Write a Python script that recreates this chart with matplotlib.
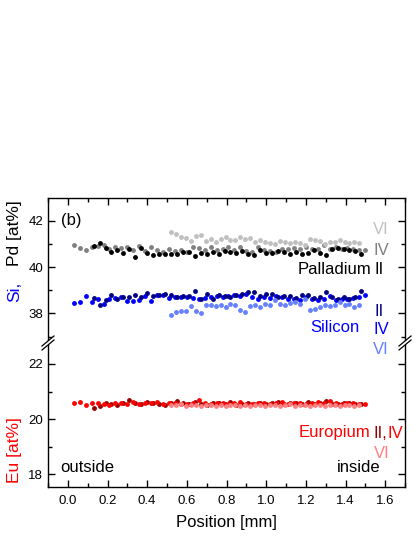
import matplotlib
matplotlib.use("Agg")
from matplotlib import pyplot as plt
from matplotlib.lines import Line2D
from matplotlib.patches import Polygon
from matplotlib.ticker import MultipleLocator

plt.rcParams['font.family'] = ['Liberation Sans', 'DejaVu Sans']

# measurement positions [mm]
pos_iv = [0.03, 0.06, 0.09, 0.12, 0.15, 0.18, 0.21, 0.24, 0.27, 0.30,
          0.33, 0.36, 0.39, 0.42, 0.45, 0.48, 0.51, 0.54, 0.57, 0.60,
          0.63, 0.66, 0.69, 0.72, 0.75, 0.78, 0.81, 0.84, 0.87, 0.90,
          0.93, 0.96, 0.99, 1.02, 1.05, 1.08, 1.11, 1.14, 1.17, 1.20,
          1.23, 1.26, 1.29, 1.32, 1.35, 1.38, 1.41, 1.44, 1.47, 1.50]
pos_ii = [0.13, 0.16, 0.19, 0.22, 0.25, 0.28, 0.31, 0.34, 0.37, 0.40,
          0.43, 0.46, 0.49, 0.52, 0.55, 0.58, 0.61, 0.64, 0.67, 0.70,
          0.73, 0.76, 0.79, 0.82, 0.85, 0.88, 0.91, 0.94, 0.97, 1.00,
          1.03, 1.06, 1.09, 1.12, 1.15, 1.18, 1.21, 1.24, 1.27, 1.30,
          1.33, 1.36, 1.39, 1.42, 1.45, 1.48]
pos_vi = [0.520, 0.545, 0.570, 0.595, 0.620, 0.645, 0.670, 0.695, 0.720, 0.745,
          0.770, 0.795, 0.820, 0.845, 0.870, 0.895, 0.920, 0.945, 0.970, 0.995,
          1.020, 1.045, 1.070, 1.095, 1.120, 1.145, 1.170, 1.195, 1.220, 1.245,
          1.270, 1.295, 1.320, 1.345, 1.370, 1.395, 1.420, 1.445, 1.470]

# Palladium [at%]
pd_iv = [40.94, 40.83, 40.72, 40.88, 40.92, 40.94, 40.78, 40.86, 40.80, 40.88,
         40.72, 40.92, 40.68, 40.86, 40.75, 40.65, 40.78, 40.68, 40.75, 40.66,
         40.86, 40.80, 40.72, 40.86, 40.72, 40.78, 40.86, 40.72, 40.86, 40.70,
         40.65, 40.86, 40.72, 40.70, 40.65, 40.79, 40.76, 40.82, 40.79, 40.86,
         40.78, 40.76, 40.94, 40.76, 40.86, 40.76, 40.80, 40.76, 40.72, 40.72]
pd_ii = [40.90, 41.03, 40.82, 40.65, 40.75, 40.62, 40.78, 40.43, 40.82, 40.62,
         40.50, 40.58, 40.55, 40.58, 40.55, 40.65, 40.65, 40.48, 40.60, 40.58,
         40.65, 40.58, 40.70, 40.65, 40.62, 40.68, 40.55, 40.50, 40.72, 40.62,
         40.62, 40.68, 40.65, 40.58, 40.65, 40.58, 40.62, 40.72, 40.62, 40.50,
         40.79, 40.82, 40.79, 40.72, 40.68, 40.55]
pd_vi = [41.50, 41.43, 41.30, 41.25, 41.13, 41.36, 41.40, 41.13, 41.22, 41.08,
         41.20, 41.29, 41.18, 41.15, 41.29, 41.22, 41.25, 41.08, 41.15, 41.10,
         41.05, 41.00, 41.12, 41.08, 41.02, 41.08, 41.05, 40.97, 41.22, 41.15,
         41.12, 41.00, 41.10, 41.08, 41.15, 41.08, 41.05, 41.10, 41.04]

# Silicon [at%]
si_iv = [38.45, 38.49, 38.74, 38.49, 38.61, 38.42, 38.61, 38.67, 38.71, 38.52,
         38.52, 38.56, 38.74, 38.52, 38.78, 38.78, 38.68, 38.71, 38.71, 38.71,
         38.67, 38.61, 38.67, 38.71, 38.75, 38.71, 38.75, 38.78, 38.75, 38.85,
         38.71, 38.64, 38.71, 38.67, 38.75, 38.71, 38.64, 38.60, 38.56, 38.71,
         38.61, 38.56, 38.64, 38.75, 38.56, 38.61, 38.64, 38.67, 38.70, 38.78]
si_ii = [38.67, 38.35, 38.56, 38.78, 38.61, 38.71, 38.71, 38.81, 38.71, 38.89,
         38.75, 38.81, 38.85, 38.78, 38.71, 38.75, 38.75, 38.95, 38.61, 38.85,
         38.64, 38.78, 38.75, 38.71, 38.78, 38.85, 38.92, 38.92, 38.75, 38.85,
         38.85, 38.71, 38.75, 38.75, 38.67, 38.78, 38.78, 38.67, 38.71, 38.92,
         38.71, 38.64, 38.71, 38.64, 38.71, 38.95]
si_vi = [37.92, 38.04, 38.08, 38.10, 38.32, 38.10, 38.00, 38.35, 38.35, 38.32,
         38.35, 38.28, 38.40, 38.35, 38.13, 38.06, 38.30, 38.35, 38.28, 38.42,
         38.35, 38.56, 38.40, 38.35, 38.46, 38.49, 38.42, 38.64, 38.13, 38.20,
         38.28, 38.35, 38.30, 38.35, 38.49, 38.35, 38.40, 38.28, 38.35]

# Europium [at%]
eu_iv = [20.57, 20.61, 20.51, 20.58, 20.60, 20.55, 20.53, 20.60, 20.60, 20.55,
         20.62, 20.54, 20.60, 20.58, 20.62, 20.55, 20.57, 20.60, 20.56, 20.55,
         20.58, 20.70, 20.60, 20.55, 20.57, 20.60, 20.55, 20.58, 20.62, 20.56,
         20.55, 20.60, 20.57, 20.55, 20.58, 20.62, 20.56, 20.60, 20.58, 20.55,
         20.60, 20.62, 20.57, 20.65, 20.58, 20.56, 20.60, 20.57, 20.55, 20.56]
eu_ii = [20.42, 20.47, 20.58, 20.55, 20.52, 20.60, 20.68, 20.60, 20.55, 20.62,
         20.58, 20.55, 20.52, 20.60, 20.64, 20.58, 20.55, 20.62, 20.56, 20.52,
         20.58, 20.60, 20.55, 20.63, 20.52, 20.56, 20.58, 20.55, 20.60, 20.54,
         20.58, 20.62, 20.55, 20.58, 20.60, 20.56, 20.62, 20.55, 20.58, 20.65,
         20.56, 20.54, 20.60, 20.58, 20.55, 20.54]
eu_vi = [20.52, 20.50, 20.55, 20.48, 20.50, 20.52, 20.46, 20.50, 20.53, 20.48,
         20.50, 20.47, 20.52, 20.50, 20.48, 20.52, 20.46, 20.50, 20.53, 20.48,
         20.50, 20.52, 20.47, 20.50, 20.54, 20.48, 20.50, 20.52, 20.47, 20.50,
         20.53, 20.48, 20.52, 20.50, 20.47, 20.52, 20.50, 20.48, 20.52]

x_ticks = [0.0, 0.2, 0.4, 0.6, 0.8, 1.0, 1.2, 1.4, 1.6]

W, H = 415, 537


def fx(px):
    return px / W


def fy(py):
    return 1 - py / H


fig = plt.figure(figsize=(W / 100, H / 100), dpi=100)
left, right = 48, 405
top, mid, bottom = 198, 343, 487
ax_up = fig.add_axes([fx(left), fy(mid), fx(right) - fx(left), fy(top) - fy(mid)])
ax_lo = fig.add_axes([fx(left), fy(bottom), fx(right) - fx(left), fy(mid) - fy(bottom)])

ms = 3.5
# upper panel: Pd and Si
ax_up.plot(pos_iv, pd_iv, 'o', ms=ms, mew=0, color='#808080')
ax_up.plot(pos_ii, pd_ii, 'o', ms=ms, mew=0, color='#000000')
ax_up.plot(pos_vi, pd_vi, 'o', ms=ms, mew=0, color='#c0c0c0')
ax_up.plot(pos_iv, si_iv, 'o', ms=ms, mew=0, color='#0000ff')
ax_up.plot(pos_ii, si_ii, 'o', ms=ms, mew=0, color='#000080')
ax_up.plot(pos_vi, si_vi, 'o', ms=ms, mew=0, color='#6680ff')
# lower panel: Eu
ax_lo.plot(pos_ii, eu_ii, 'o', ms=ms, mew=0, color='#990000')
ax_lo.plot(pos_iv, eu_iv, 'o', ms=ms, mew=0, color='#ff0000')
ax_lo.plot(pos_vi, eu_vi, 'o', ms=ms, mew=0, color='#ff8080')

for ax in (ax_up, ax_lo):
    ax.set_xlim(-0.1, 1.7)
    ax.set_xticks(x_ticks)
    ax.xaxis.set_minor_locator(MultipleLocator(0.1))
    ax.yaxis.set_minor_locator(MultipleLocator(1))
    for s in ax.spines.values():
        s.set_linewidth(1.0)
    ax.tick_params(which='both', direction='in', width=1.0, labelsize=9.5)
    ax.tick_params(which='major', length=5)
    ax.tick_params(which='minor', length=3)

ax_up.set_ylim(36.72, 42.98)
ax_up.set_yticks([38, 40, 42])
ax_up.spines['bottom'].set_visible(False)
ax_up.tick_params(which='both', bottom=False, labelbottom=False, top=True, right=True)

ax_lo.set_ylim(17.54, 22.76)
ax_lo.set_yticks([18, 20, 22])
ax_lo.spines['top'].set_visible(False)
ax_lo.tick_params(which='both', top=False, right=True)
ax_lo.tick_params(axis='x', pad=6)
ax_lo.set_xticklabels(['%.1f' % v for v in x_ticks])

# axis break marks
for cx in (left, right):
    gap = Polygon([(fx(cx - 7), fy(mid + 4)), (fx(cx + 5), fy(mid - 6)),
                   (fx(cx + 5), fy(mid - 2)), (fx(cx - 7), fy(mid + 8))],
                  closed=True, transform=fig.transFigure, facecolor='white',
                  edgecolor='none', zorder=5)
    fig.add_artist(gap)
    for off in (-2, 2):
        fig.add_artist(Line2D([fx(cx - 6), fx(cx + 6)],
                              [fy(mid + 5 + off), fy(mid - 5 + off)],
                              transform=fig.transFigure, color='black', lw=0.9, zorder=6))

# y labels
lfs = 12.5
fig.text(fx(15), fy(233), 'Pd [at%]', rotation=90, ha='center', va='center', fontsize=lfs)
fig.text(fx(15), fy(292), 'Si,', rotation=90, ha='center', va='center', fontsize=lfs, color='#0000ff')
fig.text(fx(15), fy(450), 'Eu [at%]', rotation=90, ha='center', va='center', fontsize=lfs, color='#ff0000')
fig.text(fx(226), fy(523), 'Position [mm]', ha='center', va='center', fontsize=12)

# annotations
fs = 12
fig.text(fx(61), fy(221), '(b)', ha='left', va='center', fontsize=fs)
fig.text(fx(373), fy(230), 'VI', ha='left', va='center', fontsize=fs, color='#c0c0c0')
fig.text(fx(373), fy(250), 'IV', ha='left', va='center', fontsize=fs, color='#808080')
fig.text(fx(371), fy(269), 'Palladium', ha='right', va='center', fontsize=fs, color='black')
fig.text(fx(374), fy(269), 'II', ha='left', va='center', fontsize=fs, color='black')
fig.text(fx(374), fy(311), 'II', ha='left', va='center', fontsize=fs, color='#000080')
fig.text(fx(360), fy(328), 'Silicon', ha='right', va='center', fontsize=fs, color='#0000ff')
fig.text(fx(373), fy(329), 'IV', ha='left', va='center', fontsize=fs, color='#0000ff')
fig.text(fx(373), fy(350), 'VI', ha='left', va='center', fontsize=fs, color='#6680ff')
fig.text(fx(370), fy(433), 'Europium', ha='right', va='center', fontsize=fs, color='#ff0000')
fig.text(fx(373), fy(433), 'II,', ha='left', va='center', fontsize=fs, color='#990000')
fig.text(fx(387), fy(433), 'IV', ha='left', va='center', fontsize=fs, color='#ff0000')
fig.text(fx(374), fy(453), 'VI', ha='left', va='center', fontsize=fs, color='#ff8080')
fig.text(fx(380), fy(467), 'inside', ha='right', va='center', fontsize=fs, color='black')
fig.text(fx(60), fy(467), 'outside', ha='left', va='center', fontsize=fs, color='black')

fig.savefig('out.png', dpi=100)
